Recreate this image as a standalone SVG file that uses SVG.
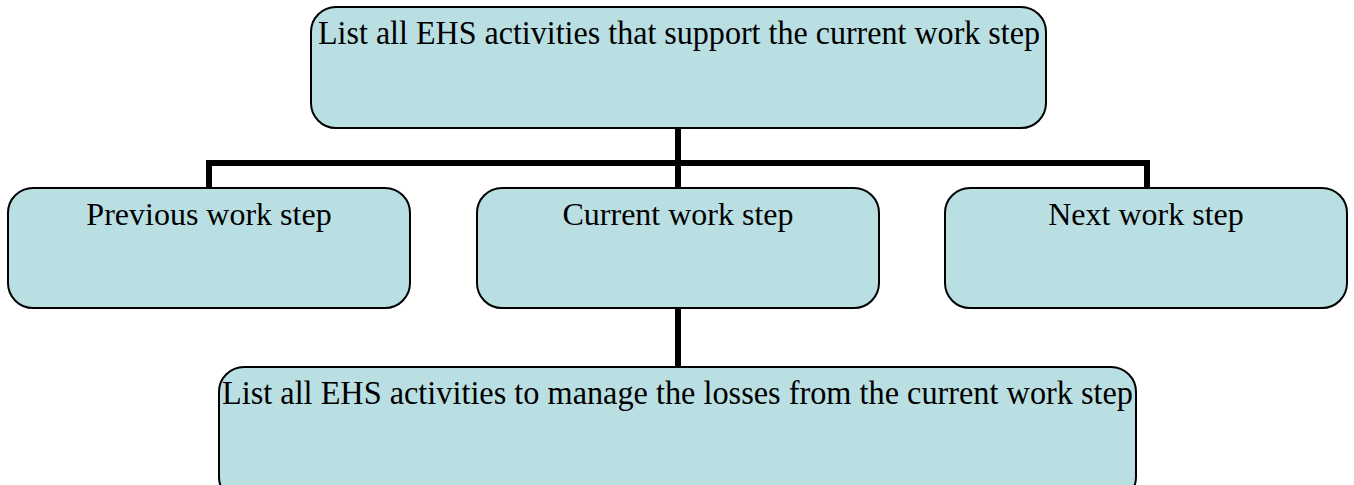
<svg xmlns="http://www.w3.org/2000/svg" width="1354" height="485" viewBox="0 0 1354 485">
<style>
.box{fill:#b9dfe3;stroke:#000;stroke-width:2}
.t{font-family:"Liberation Serif","Times New Roman",serif;font-size:32px;fill:#000;text-anchor:middle}
.tl{font-size:33px}
.c{fill:none;stroke:#000;stroke-width:6}
</style>
<rect width="1354" height="485" fill="#fff"/>
<g id="connectors">
<line class="c" x1="678" y1="128" x2="678" y2="188"/>
<polyline class="c" points="209,188 209,163 1147,163 1147,188"/>
<line class="c" x1="678" y1="308" x2="678" y2="367"/>
</g>
<g id="top">
<rect class="box" x="311" y="7" width="735" height="121" rx="25"/>
<text class="t tl" x="679" y="44" textLength="722" lengthAdjust="spacingAndGlyphs">List all EHS activities that support the current work step</text>
</g>
<g id="previous">
<rect class="box" x="8" y="188" width="402" height="120" rx="25"/>
<text class="t" x="209" y="225">Previous work step</text>
</g>
<g id="current">
<rect class="box" x="477" y="188" width="402" height="120" rx="25"/>
<text class="t" x="678" y="225">Current work step</text>
</g>
<g id="next">
<rect class="box" x="945" y="188" width="402" height="120" rx="25"/>
<text class="t" x="1146" y="225">Next work step</text>
</g>
<g id="bottom">
<rect class="box" x="219" y="367" width="917" height="135" rx="25"/>
<text class="t tl" x="677.5" y="404" textLength="911" lengthAdjust="spacingAndGlyphs">List all EHS activities to manage the losses from the current work step</text>
</g>
</svg>
